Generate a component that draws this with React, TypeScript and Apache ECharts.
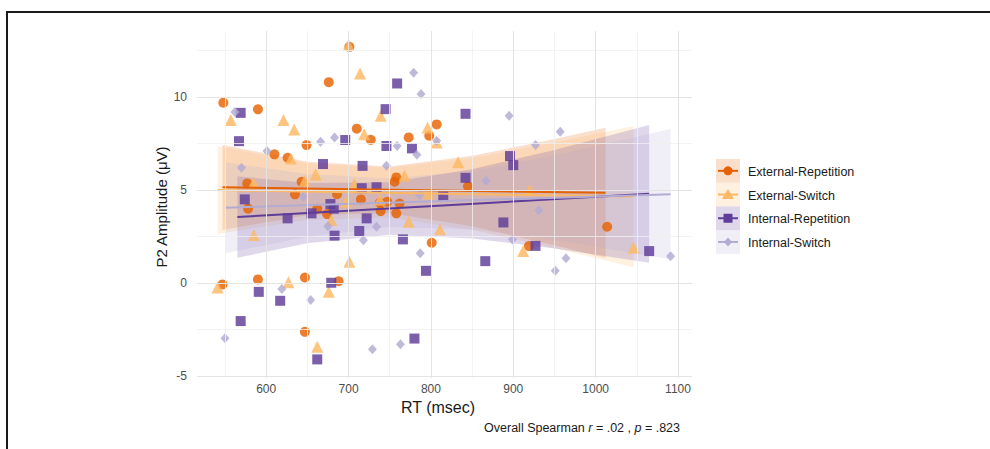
import React, { useEffect, useRef } from "react";
import * as echarts from "echarts";

// ---------- data ----------
const seriesNames = ["External-Repetition", "External-Switch", "Internal-Repetition", "Internal-Switch"];
const seriesColors = ["#e66101", "#fdb863", "#5e3c99", "#b2abd2"];

const extRepPoints = [
  [548, 9.7], [590, 9.34], [676, 10.8], [701, 12.7], [610, 6.92], [626, 6.74], [649, 7.42], [710, 8.3],
  [727, 7.7], [643, 5.45], [577, 5.36], [635, 4.77], [686, 4.78], [715, 4.5], [578, 4.0], [662, 4.0],
  [674, 3.71], [547, -0.07], [590, 0.2], [647, 0.3], [688, 0.1], [647, -2.62], [773, 7.83], [807, 8.53],
  [798, 7.92], [758, 5.68], [756, 5.45], [845, 5.2], [747, 4.37], [762, 4.28], [739, 3.87], [758, 3.75],
  [801, 2.17], [919, 1.99], [1014, 3.03], [738, 4.32],
];
const extSwPoints = [
  [700, 12.8], [714, 11.27], [557, 8.76], [621, 8.76], [634, 8.26], [630, 6.7], [719, 8.0], [660, 5.84],
  [647, 5.5], [585, 5.39], [585, 2.58], [697, 4.37], [679, 3.39], [701, 1.15], [541, -0.23], [627, 0.04],
  [676, -0.47], [662, -3.42], [773, 3.3], [811, 2.9], [912, 1.72], [739, 9.0], [796, 8.37], [807, 7.56],
  [833, 6.49], [768, 5.77], [707, 5.32], [738, 4.5], [797, 4.82], [920, 5.0], [1046, 1.92],
];
const intRepPoints = [
  [569, 9.15], [567, 7.63], [696, 7.69], [669, 6.4], [717, 6.3], [716, 5.1], [574, 4.5], [626, 3.48],
  [655, 3.75], [678, 4.25], [683, 2.55], [713, 2.8], [591, -0.47], [617, -0.95], [679, 0.02], [569, -2.04],
  [662, -4.1], [780, -2.98], [722, 3.48], [766, 2.35], [794, 0.66], [866, 1.18], [888, 3.26], [927, 2.0],
  [815, 4.66], [759, 10.73], [745, 9.35], [842, 9.1], [746, 7.37], [777, 7.24], [896, 6.83], [900, 6.34],
  [842, 5.66], [734, 5.15], [682, 4.0], [1065, 1.72],
];
const intSwPoints = [
  [562, 9.2], [601, 7.1], [666, 7.6], [683, 7.83], [570, 6.2], [645, 4.64], [675, 3.05], [718, 2.31],
  [619, -0.32], [654, -0.91], [550, -2.97], [729, -3.55], [763, -3.28], [734, 3.03], [787, 1.6], [899, 2.35],
  [931, 3.92], [786, 4.73], [746, 6.31], [783, 6.9], [779, 11.3], [788, 10.16], [895, 9.0], [807, 7.65],
  [759, 7.37], [927, 7.42], [867, 5.5], [964, 1.33], [951, 0.67], [1091, 1.45], [957, 8.13],
];

// fitted lines (endpoints) and confidence bands
const extRepFit = [[547, 5.15], [1012, 4.85]];
const extSwFit = [[541, 5.0], [1046, 4.65]];
const intRepFit = [[565, 3.55], [1065, 4.8]];
const intSwFit = [[550, 4.05], [1091, 4.78]];

const extRepBand = [[547, 2.86, 7.44], [650, 3.65, 6.52], [750, 3.77, 6.27], [850, 3.06, 6.84], [950, 2.04, 7.74], [1012, 1.35, 8.35]];
const extSwBand = [[541, 2.64, 7.36], [650, 3.41, 6.43], [750, 3.52, 6.2], [850, 2.86, 6.72], [950, 1.88, 7.56], [1046, 0.85, 8.45]];
const intRepBand = [[565, 1.36, 5.74], [650, 2.14, 5.38], [750, 2.6, 5.42], [850, 2.4, 6.12], [950, 1.86, 7.16], [1065, 1.1, 8.5]];
const intSwBand = [[550, 1.61, 6.49], [650, 2.49, 5.87], [750, 3.02, 5.62], [850, 2.88, 6.02], [950, 2.32, 6.86], [1091, 1.28, 8.28]];

const xTicks = [600, 700, 800, 900, 1000, 1100];
const xMinor = [550, 650, 750, 850, 950, 1050];
const yTicks = [-5, 0, 5, 10];
const yMinor = [-2.5, 2.5, 7.5, 12.5];

const pointSets = [extRepPoints, extSwPoints, intRepPoints, intSwPoints];
const fitSets = [extRepFit, extSwFit, intRepFit, intSwFit];
const bandSets = [extRepBand, extSwBand, intRepBand, intSwBand];
const symbols = ["circle", "triangle", "rect", "diamond"];
const symbolSizes: any[] = [10, 12, 10, [9, 10]];

const FONT = "Liberation Sans, Arial, sans-serif";

function hexA(hex: string, a: number) {
  const r = parseInt(hex.slice(1, 3), 16);
  const g = parseInt(hex.slice(3, 5), 16);
  const b = parseInt(hex.slice(5, 7), 16);
  return `rgba(${r},${g},${b},${a})`;
}

export default function App() {
  const ref = useRef<HTMLDivElement>(null);
  useEffect(() => {
    if (!ref.current) return;
    const chart = echarts.init(ref.current, null, { renderer: "svg" });

    const series: any[] = [];
    // gridlines
    series.push({
      type: "line",
      data: [],
      silent: true,
      z: 0,
      markLine: {
        silent: true,
        symbol: ["none", "none"],
        label: { show: false },
        animation: false,
        data: [
          ...xMinor.map((v) => ({ xAxis: v, lineStyle: { color: "#f0f0f0", width: 0.8, type: "solid" } })),
          ...yMinor.map((v) => ({ yAxis: v, lineStyle: { color: "#f0f0f0", width: 0.8, type: "solid" } })),
          ...xTicks.map((v) => ({ xAxis: v, lineStyle: { color: "#e4e4e4", width: 1, type: "solid" } })),
          ...yTicks.map((v) => ({ yAxis: v, lineStyle: { color: "#e4e4e4", width: 1, type: "solid" } })),
        ],
      },
    });
    // points
    pointSets.forEach((pts, i) => {
      series.push({
        type: "scatter",
        name: seriesNames[i],
        data: pts,
        symbol: symbols[i],
        symbolSize: symbolSizes[i],
        itemStyle: { color: seriesColors[i], opacity: 0.82 },
        silent: true,
      });
    });
    // bands + lines
    bandSets.forEach((band, i) => {
      series.push({
        type: "custom",
        data: band,
        encode: { x: 0, y: [1, 2] },
        silent: true,
        renderItem: (params: any, api: any) => {
          if (params.dataIndex !== 0) return null;
          const upper = band.map((r) => api.coord([r[0], r[2]]));
          const lower = band.map((r) => api.coord([r[0], r[1]])).reverse();
          return {
            type: "polygon",
            shape: { points: upper.concat(lower) },
            style: { fill: hexA(seriesColors[i], 0.2) },
          };
        },
      });
      series.push({
        type: "line",
        data: fitSets[i],
        showSymbol: false,
        silent: true,
        lineStyle: { color: seriesColors[i], width: 2 },
      });
    });

    const legendX = 716;
    const legendTop = 159;
    const rowH = 23.7;
    const legendEls: any[] = [];
    seriesNames.forEach((name, i) => {
      const y0 = legendTop + i * rowH;
      const cy = y0 + rowH / 2;
      const c = seriesColors[i];
      legendEls.push({ type: "rect", shape: { x: legendX, y: y0, width: 24, height: rowH }, style: { fill: hexA(c, 0.2) } });
      legendEls.push({ type: "line", shape: { x1: legendX + 2, y1: cy, x2: legendX + 22, y2: cy }, style: { stroke: c, lineWidth: 2 } });
      const mx = legendX + 12;
      if (i === 0) legendEls.push({ type: "circle", shape: { cx: mx, cy, r: 4.5 }, style: { fill: c } });
      if (i === 1) legendEls.push({ type: "polygon", shape: { points: [[mx, cy - 5.5], [mx + 6, cy + 4.5], [mx - 6, cy + 4.5]] }, style: { fill: c } });
      if (i === 2) legendEls.push({ type: "rect", shape: { x: mx - 4.5, y: cy - 4.5, width: 9, height: 9 }, style: { fill: c } });
      if (i === 3) legendEls.push({ type: "polygon", shape: { points: [[mx, cy - 4.5], [mx + 4, cy], [mx, cy + 4.5], [mx - 4, cy]] }, style: { fill: c } });
      legendEls.push({
        type: "text",
        x: 748,
        y: cy + 1,
        style: { text: name, fill: "#1a1a1a", font: `12.5px ${FONT}`, textAlign: "left", textVerticalAlign: "middle" },
      });
    });

    chart.setOption({
      animation: false,
      grid: { left: 197, right: 298, top: 31, bottom: 71, containLabel: false },
      xAxis: {
        type: "value",
        min: 516,
        max: 1117,
        axisLine: { show: false },
        axisTick: { show: false },
        splitLine: { show: false },
        axisLabel: {
          customValues: xTicks,
          formatter: (v: number) => String(v),
          color: "#4d4d4d",
          fontSize: 12,
          fontFamily: FONT,
          margin: 5,
        },
      },
      yAxis: {
        type: "value",
        min: -5.1,
        max: 13.55,
        axisLine: { show: false },
        axisTick: { show: false },
        splitLine: { show: false },
        axisLabel: {
          customValues: yTicks,
          formatter: (v: number) => String(v),
          color: "#4d4d4d",
          fontSize: 12,
          fontFamily: FONT,
          margin: 10,
        },
      },
      series,
      graphic: [
        { type: "line", shape: { x1: 6, y1: 12, x2: 990, y2: 12 }, style: { stroke: "#1a1a1a", lineWidth: 2 } },
        { type: "line", shape: { x1: 7, y1: 12, x2: 7, y2: 449 }, style: { stroke: "#1a1a1a", lineWidth: 2 } },
        {
          type: "text",
          x: 438,
          y: 407,
          style: { text: "RT (msec)", fill: "#1a1a1a", font: `16px ${FONT}`, textAlign: "center", textVerticalAlign: "middle" },
        },
        {
          type: "text",
          x: 161,
          y: 207,
          rotation: Math.PI / 2,
          style: { text: "P2 Amplitude (μV)", fill: "#1a1a1a", font: `15px ${FONT}`, textAlign: "center", textVerticalAlign: "middle" },
        },
        {
          type: "text",
          x: 680,
          y: 428,
          style: {
            text: "Overall Spearman {i|r} = .02 , {i|p} = .823",
            fill: "#1a1a1a",
            font: `12.5px ${FONT}`,
            textAlign: "right",
            textVerticalAlign: "middle",
            rich: { i: { fontStyle: "italic", fontSize: 12.5, fontFamily: FONT, fill: "#1a1a1a" } },
          },
        },
        ...legendEls,
      ],
    });
    return () => chart.dispose();
  }, []);
  return <div ref={ref} style={{ position: "fixed", left: 0, top: 0, width: 990, height: 449, background: "#fff" }} />;
}
